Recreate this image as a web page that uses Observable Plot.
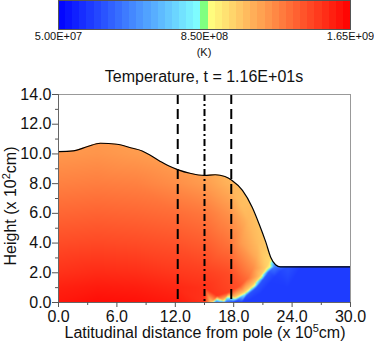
<!DOCTYPE html>
<html><head><meta charset="utf-8">
<script src="https://cdn.jsdelivr.net/npm/d3@7"></script>
<script src="https://cdn.jsdelivr.net/npm/@observablehq/plot@0.6"></script>
<style>
html,body{margin:0;padding:0;background:#fff;}
#chart{position:relative;width:374px;height:342px;overflow:hidden;font-family:"Liberation Sans",Arial,sans-serif;}
#chart > svg{position:absolute;left:0;top:0;}
</style></head><body><div id="chart"></div>
<script>
// ---------- data ----------
// free surface (top of hot layer), x in 1e5 cm, height in 1e2 cm
const surfaceX = [0, 1.5, 3, 4.3, 6, 7.5, 8.6, 10.3, 11.3, 12.3, 13.5, 15, 16.1, 17.1, 17.8, 18.9, 19.9, 20.6, 21.3, 21.8, 22.3, 22.8, 30];
const surfaceY = [10.15, 10.2, 10.5, 10.72, 10.65, 10.4, 10.2, 9.56, 9.2, 8.93, 8.7, 8.55, 8.6, 8.48, 8.23, 7.54, 6.41, 5.3, 4.06, 3.05, 2.54, 2.4, 2.4];

// temperature samples (K) on a coarse grid inside the hot layer
const gridX = [0, 4, 8, 12, 15, 17.5];
const gridY = [0, 1, 2, 4, 6, 8, 10, 12, 14];
const gridT = [
  [1.58e9, 1.61e9, 1.60e9, 1.57e9, null,   null],
  [1.55e9, 1.57e9, 1.56e9, 1.53e9, 1.50e9, null],
  [1.50e9, 1.52e9, 1.51e9, 1.48e9, 1.46e9, 1.42e9],
  [1.42e9, 1.43e9, 1.42e9, 1.40e9, 1.37e9, 1.30e9],
  [1.34e9, 1.35e9, 1.34e9, 1.32e9, 1.29e9, 1.21e9],
  [1.26e9, 1.27e9, 1.26e9, 1.22e9, 1.18e9, 1.11e9],
  [1.19e9, 1.20e9, 1.18e9, 1.15e9, 1.12e9, 1.08e9],
  [1.16e9, 1.17e9, 1.15e9, 1.12e9, 1.10e9, 1.07e9],
  [1.16e9, 1.17e9, 1.15e9, 1.12e9, 1.10e9, 1.07e9]
];
// hot gas near the burning front [x, y, T]
const hotInner = [[15.0,0,1.50e9],[16.3,0.45,1.48e9],[17.5,0.7,1.45e9],[18.6,1.1,1.40e9],[19.4,1.6,1.32e9],[20.0,2.3,1.22e9],[20.4,3.1,1.12e9]];
const hotEdge  = [[15.7,0.03,1.05e9],[16.9,0.16,1.05e9],[18.1,0.36,1.05e9],[19.1,0.72,1.05e9],[20.05,1.27,1.05e9],[20.75,1.82,1.05e9],[21.3,2.35,1.03e9],[21.65,2.75,1.0e9]];
const frontPts = [[15.9,0,8.5e8],[17.0,0.08,8.5e8],[18.2,0.26,8.5e8],[19.2,0.6,8.5e8],[20.2,1.14,8.5e8],[20.9,1.7,8.5e8],[21.45,2.2,8.5e8],[21.85,2.42,8.5e8]];
const coldEdge = [[16.2,0,3.0e8],[17.2,0,3.0e8],[18.35,0.14,3.0e8],[19.35,0.47,3.0e8],[20.35,1.0,3.0e8],[21.05,1.56,3.0e8],[21.6,2.05,3.2e8],[22.2,2.4,4.2e8],[22.8,2.4,3.8e8],[23.6,2.4,3.0e8]];
const coldRow  = [[17.8,0,2.3e8],[18.8,0,2.3e8],[19.8,0.2,2.3e8],[20.8,0.6,2.3e8],[21.6,1.2,2.3e8],[22.2,1.7,2.4e8],[22.8,2.1,2.6e8]];
const coldGas  = [[20.5,0,2.3e8],[22,0,2.3e8],[23.5,0,2.3e8],[26,0,2.3e8],[30,0,2.3e8],[23.5,0.9,2.3e8],[26,1.2,2.3e8],[30,1.2,2.3e8],[25,2.4,2.3e8],[27.5,2.4,2.3e8],[30,2.4,2.3e8]];
const slopeGas = [[18.8,4,1.18e9],[19.5,5.5,1.1e9],[20.5,4,1.08e9],[18.8,6.5,1.08e9],[21.0,3.2,1.04e9]];
const aboveGas = [[20,8,1.05e9],[19.5,10,1.05e9],[20,14,1.05e9],[22,5,1.0e9],[22.2,3.3,1.0e9],[23,3,1.0e9],[25,3,1.0e9],[30,3,1.0e9],[25,8,1.0e9],[25,14,1.0e9],[30,14,1.0e9]];

// reference lines
const dashedX = [12.25, 17.75];
const dashDotX = [15.0];

// axes
const xTicks = [0, 6, 12, 18, 24, 30];
const xMinor = [3, 9, 15, 21, 27];
const yTicks = [0, 2, 4, 6, 8, 10, 12, 14];
const yMinor = [1, 3, 5, 7, 9, 11, 13];

// colour bar
const colorStops = [5e7, 8.2e8, 8.5e8, 8.8e8, 1.65e9];
const colorRange = ["#0000ff", "#80ffff", "#80ff80", "#ffff80", "#ff0000"];
const cbarTicks = [5e7, 8.5e8, 1.65e9];
const cbarTickLabels = ["5.00E+07", "8.50E+08", "1.65E+09"];
const cbarBands = 41;

const titleText = "Temperature, t = 1.16E+01s";
const unitText = "(K)";

// ---------- build ----------
const FONT = '"Liberation Sans", Arial, sans-serif';
const samples = [];
gridY.forEach((y, r) => gridX.forEach((x, c) => { const t = gridT[r][c]; if (t != null) samples.push({x, y, t}); }));
for (const g of [hotInner, hotEdge, frontPts, coldEdge, coldRow, coldGas, slopeGas, aboveGas])
  for (const [x, y, t] of g) samples.push({x, y, t});
const surface = surfaceX.map((x, i) => ({x, y: surfaceY[i]}));
const colorScale = {type: "linear", domain: colorStops, range: colorRange, clamp: true};

const chart = document.getElementById("chart");

// colour bar
const lo = colorStops[0], hi = colorStops[colorStops.length - 1];
const bands = d3.range(cbarBands).map(i => {
  const a = lo + (hi - lo) * i / cbarBands, b = lo + (hi - lo) * (i + 1) / cbarBands;
  return {x1: a, x2: b, t: (a + b) / 2};
});
const cbar = Plot.plot({
  width: 374, height: 62, marginLeft: 58, marginRight: 24, marginTop: 0, marginBottom: 33,
  style: {background: "transparent", fontFamily: FONT, overflow: "visible"},
  x: {domain: [lo, hi], label: null},
  y: {domain: [0, 1], axis: null},
  color: colorScale,
  marks: [
    Plot.rect(bands, {x1: "x1", x2: "x2", y1: 0, y2: 1, fill: "t", shapeRendering: "crispEdges"}),
    Plot.frame({stroke: "#555"}),
    Plot.axisX({ticks: cbarTicks, tickSize: 0, tickPadding: 3, fontSize: 11, fill: "#111", label: null,
      tickFormat: d => cbarTickLabels[cbarTicks.indexOf(d)]})
  ]
});
chart.appendChild(cbar);

// main field
const main = Plot.plot({
  width: 374, height: 342, marginLeft: 58, marginRight: 24, marginTop: 94, marginBottom: 40,
  style: {background: "transparent", fontFamily: FONT, overflow: "visible"},
  x: {domain: [0, 30], label: null},
  y: {domain: [0, 14], label: null},
  color: colorScale,
  marks: [
    Plot.raster(samples, {x: "x", y: "y", fill: "t", interpolate: "barycentric", x1: 0, x2: 30, y1: 0, y2: 14}),
    Plot.areaY(surface, {x: "x", y1: "y", y2: 14, fill: "white", curve: "monotone-x"}),
    Plot.line(surface, {x: "x", y: "y", stroke: "black", strokeWidth: 1.2, curve: "monotone-x"}),
    Plot.ruleX(dashedX, {stroke: "black", strokeWidth: 2, strokeDasharray: "10,5"}),
    Plot.ruleX(dashDotX, {stroke: "black", strokeWidth: 2, strokeDasharray: "7,3,2,3"}),
    Plot.frame({stroke: "#999"}),
    Plot.ruleX([0], {stroke: "#666"}),
    Plot.ruleY([0], {stroke: "#666"}),
    Plot.axisY({ticks: yTicks, tickSize: 6, tickPadding: 1, fontSize: 16, stroke: "#555", fill: "#111", label: null, tickFormat: d => d.toFixed(1)}),
    Plot.axisY({ticks: yMinor, tickSize: 3, stroke: "#555", label: null, tickFormat: () => ""}),
    Plot.axisX({ticks: xTicks, tickSize: 5, tickPadding: 3, fontSize: 16, stroke: "#555", fill: "#111", label: null, tickFormat: d => d.toFixed(1)}),
    Plot.axisX({ticks: xMinor, tickSize: 3, stroke: "#555", label: null, tickFormat: () => ""})
  ]
});
chart.appendChild(main);

// text overlay
const ov = d3.create("svg").attr("width", 374).attr("height", 342)
  .style("font-family", FONT).style("overflow", "visible");
ov.append("text").attr("x", 204).attr("y", 56).attr("text-anchor", "middle").attr("font-size", 11).attr("fill", "#111").text(unitText);
ov.append("text").attr("x", 204).attr("y", 82).attr("text-anchor", "middle").attr("font-size", 16).attr("fill", "#111").text(titleText);
const xl = ov.append("text").attr("x", 205).attr("y", 338).attr("text-anchor", "middle").attr("font-size", 16).attr("fill", "#111");
xl.append("tspan").text("Latitudinal distance from pole (x 10");
xl.append("tspan").attr("dy", -6).attr("font-size", 11).text("5");
xl.append("tspan").attr("dy", 6).text("cm)");
const yl = ov.append("text").attr("transform", "translate(15.5,206) rotate(-90)").attr("text-anchor", "middle").attr("font-size", 16).attr("fill", "#111");
yl.append("tspan").text("Height (x 10");
yl.append("tspan").attr("dy", -6).attr("font-size", 11).text("2");
yl.append("tspan").attr("dy", 6).text("cm)");
chart.appendChild(ov.node());
</script>
</body></html>
